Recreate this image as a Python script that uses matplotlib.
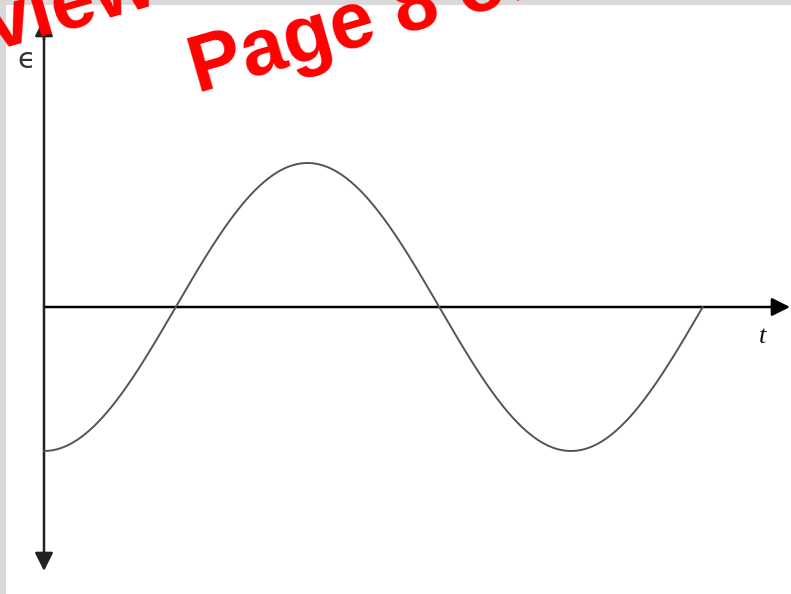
import numpy as np
import matplotlib
matplotlib.use("Agg")
import matplotlib.pyplot as plt
from matplotlib.patches import Rectangle

# ---- data (conceptual EMF curve: epsilon = -A cos(2*pi*t/T)) ----
amplitude = 1.0          # peak EMF (arbitrary units)
period = 1.0             # period T
t_end_periods = 1.25     # curve drawn over 1.25 periods
n_samples = 600
x_label = "t"
y_label = "\u03f5"
watermark_lines = ["Preview from Notesale.co.uk", "Page 8 of 20"]

t = np.linspace(0.0, t_end_periods * period, n_samples)
emf = -amplitude * np.cos(2 * np.pi * t / period)

# ---- figure ----
W, H, DPI = 791, 594, 100
fig = plt.figure(figsize=(W / DPI, H / DPI), dpi=DPI)
fig.patch.set_facecolor("white")

# pixel layout of the reference
x0_px, period_px = 44, 527       # t=0 and one period in pixels
y0_px, amp_px = 307, 144         # emf=0 and amplitude in pixels

ax = fig.add_axes([0, 0, 1, 1])
ax.set_xlim(-x0_px / period_px * period, (W - x0_px) / period_px * period)
ax.set_ylim(-(H - y0_px) / amp_px * amplitude, y0_px / amp_px * amplitude)
ax.axis("off")

def px2x(px):
    return (px - x0_px) / period_px * period

def px2y(py):
    return (y0_px - py) / amp_px * amplitude

# curve
ax.plot(t, emf, color="#555555", lw=1.4, solid_capstyle="round", zorder=3)

# axes with arrows
arrow_kw = dict(arrowstyle="-|>,head_length=11,head_width=5.5", mutation_scale=1,
                lw=1.8, shrinkA=0, shrinkB=0)
ax.annotate("", xy=(px2x(790), 0), xytext=(0, 0),
            arrowprops=dict(color="black", **arrow_kw), zorder=2)
ax.annotate("", xy=(0, px2y(571)), xytext=(0, px2y(18)),
            arrowprops=dict(color="#222222", **arrow_kw), zorder=2)
ax.annotate("", xy=(0, px2y(18)), xytext=(0, px2y(40)),
            arrowprops=dict(color="#222222", **arrow_kw), zorder=2)

# labels
ax.text(px2x(763), px2y(343), x_label, fontsize=19, family="Liberation Serif",
        style="italic", ha="center", va="baseline", color="#111111")
ax.text(px2x(26), px2y(60), y_label, fontsize=21, family="DejaVu Sans",
        ha="center", va="center", color="#333333")

# grey page borders (top and left)
fig.patches.append(Rectangle((0, 1 - 5 / H), 1, 5 / H, transform=fig.transFigure,
                             facecolor="#d9d9d9", edgecolor="none", zorder=0))
fig.patches.append(Rectangle((0, 0), 6 / W, 1, transform=fig.transFigure,
                             facecolor="#d9d9d9", edgecolor="none", zorder=0))

# watermark
ang = 16.0
u = np.array([np.cos(np.radians(ang)), -np.sin(np.radians(ang))])  # baseline dir (image coords)
n = np.array([np.sin(np.radians(ang)), np.cos(np.radians(ang))])   # downward normal
p2 = np.array([197.0, 93.0])
p1 = p2 - 311 * u - 96 * n
for txt, p in zip(watermark_lines, [p1, p2]):
    fig.text(p[0] / W, 1 - p[1] / H, txt, fontsize=57, family="Liberation Sans",
             weight="bold", color="#ff0000", rotation=ang, rotation_mode="anchor",
             ha="left", va="baseline", zorder=10)

fig.savefig("out.png", dpi=DPI)
